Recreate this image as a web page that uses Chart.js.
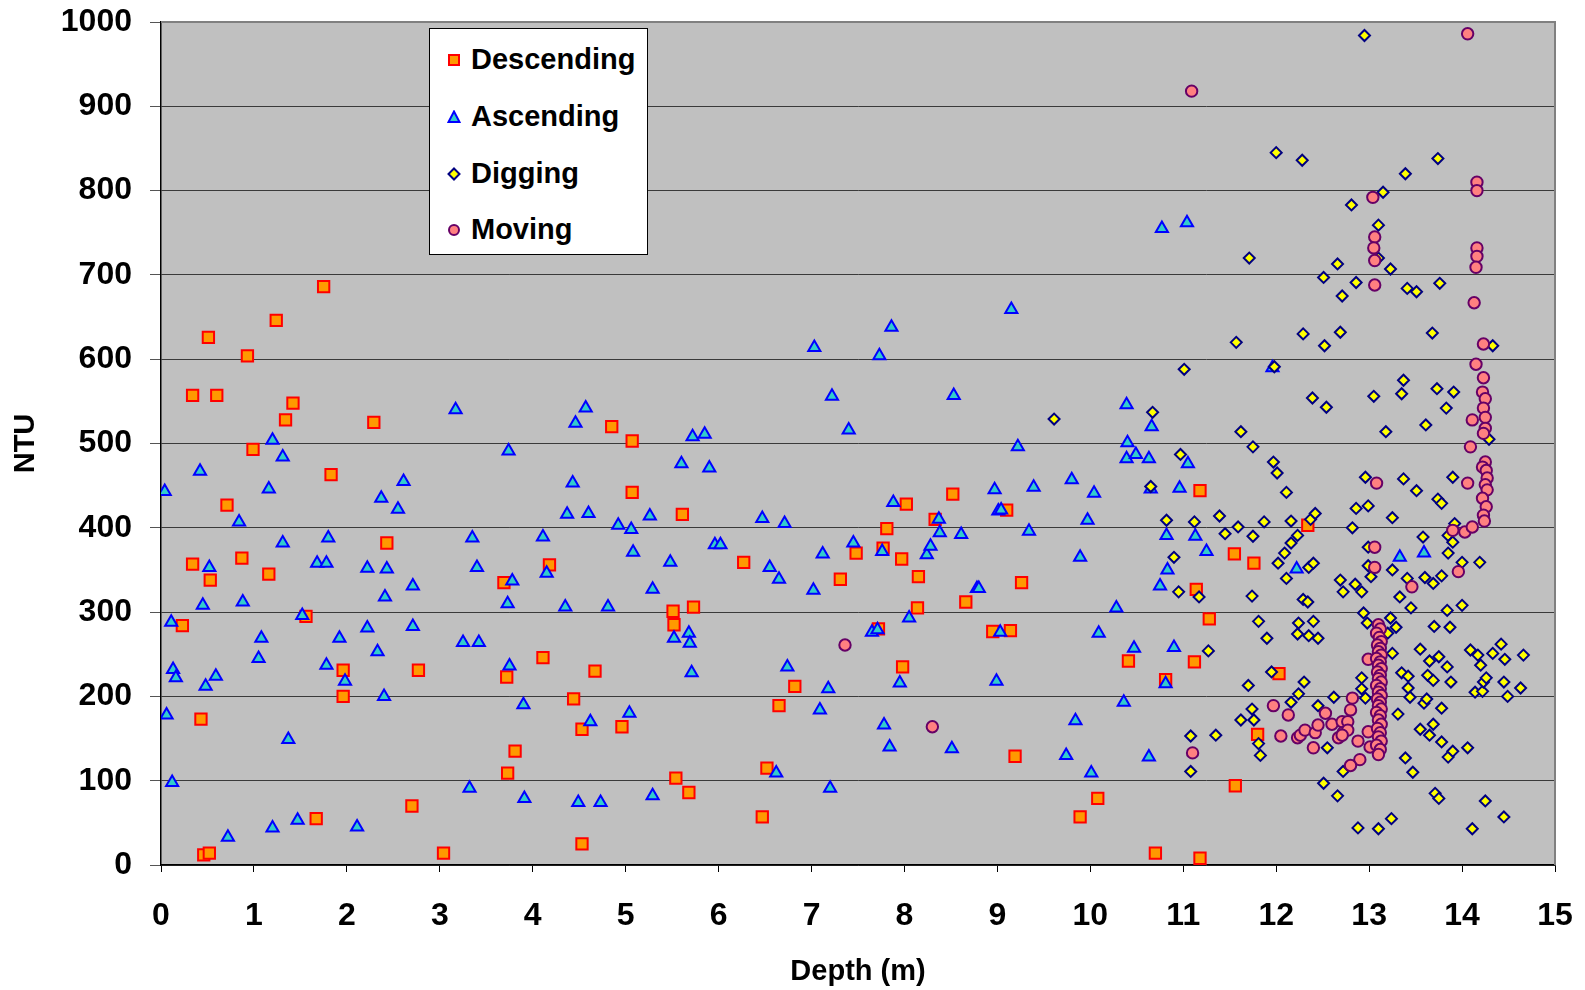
<!DOCTYPE html>
<html>
<head>
<meta charset="utf-8">
<script src="https://cdn.jsdelivr.net/npm/chart.js@4.4.0/dist/chart.umd.min.js"></script>
<style>
html,body{margin:0;padding:0;background:#fff;}
#wrap{position:relative;width:1585px;height:990px;}
#legend{position:absolute;left:429px;top:28px;width:219px;height:227px;background:#fff;border:1px solid #000;box-sizing:border-box;font:bold 29px "Liberation Sans",Arial,sans-serif;color:#000;}
#legend .row{position:absolute;left:0;height:34px;line-height:34px;white-space:nowrap;}
#legend svg{position:absolute;left:17px;top:11px;}
#legend span{position:absolute;left:41px;top:0;}
</style>
</head>
<body>
<div id="wrap">
<canvas id="c" width="1585" height="990"></canvas>
<div id="legend">
  <div class="row" style="top:13px"><svg width="14" height="14"><rect x="2" y="2" width="10" height="10" fill="#FF9900" stroke="#FF0000" stroke-width="2"/></svg><span>Descending</span></div>
  <div class="row" style="top:70px"><svg width="14" height="14"><polygon points="7,1.5 12.5,12 1.5,12" fill="#33CCCC" stroke="#0000FF" stroke-width="2"/></svg><span>Ascending</span></div>
  <div class="row" style="top:127px"><svg width="14" height="14"><polygon points="7,1.5 12.5,7 7,12.5 1.5,7" fill="#FFFF00" stroke="#000080" stroke-width="2"/></svg><span>Digging</span></div>
  <div class="row" style="top:183px"><svg width="14" height="14"><circle cx="7" cy="7" r="5" fill="#FF8080" stroke="#660066" stroke-width="2"/></svg><span>Moving</span></div>
</div>
</div>
<script>
const seriesNames = ['Descending', 'Ascending', 'Digging', 'Moving'];
const xTicks = [0,1,2,3,4,5,6,7,8,9,10,11,12,13,14,15];
const yTicks = [0,100,200,300,400,500,600,700,800,900,1000];

const descending = [[0.23,284],[0.34,357],[0.34,557],[0.43,173],[0.46,12],[0.52,14],[0.51,626],[0.53,338],[0.60,557],[0.71,427],[0.87,364],[0.93,604],[0.99,493],[1.16,345],[1.24,646],[1.34,528],[1.42,548],[1.56,295],[1.67,55],[1.75,686],[1.83,463],[1.96,231],[1.96,200],[2.29,525],[2.43,382],[2.70,70],[2.77,231],[3.04,14],[3.69,335],[3.72,223],[3.73,109],[3.81,135],[4.11,246],[4.18,356],[4.44,197],[4.53,161],[4.53,25],[4.67,230],[4.85,520],[4.96,164],[5.07,503],[5.07,442],[5.51,301],[5.52,285],[5.54,103],[5.61,416],[5.68,86],[5.73,306],[6.27,359],[6.47,57],[6.52,115],[6.65,189],[6.82,212],[7.31,339],[7.48,370],[7.72,280],[7.77,376],[7.81,399],[7.97,363],[7.98,235],[8.02,428],[8.14,305],[8.15,342],[8.33,410],[8.52,440],[8.66,312],[8.95,277],[9.10,421],[9.14,278],[9.19,129],[9.26,335],[9.89,57],[10.08,79],[10.41,242],[10.70,14],[10.81,220],[11.12,241],[11.14,327],[11.18,444],[11.18,8],[11.28,292],[11.55,369],[11.56,94],[11.76,358],[11.80,155],[12.03,227],[12.34,403]];

const ascending = [[0.04,443],[0.06,178],[0.12,98],[0.11,288],[0.13,232],[0.16,222],[0.42,467],[0.45,308],[0.48,212],[0.52,353],[0.59,224],[0.72,33],[0.84,407],[0.88,312],[1.05,245],[1.08,269],[1.16,446],[1.20,504],[1.20,44],[1.31,484],[1.31,382],[1.37,149],[1.47,53],[1.52,296],[1.68,358],[1.78,358],[1.80,388],[1.78,237],[1.92,269],[1.98,218],[2.11,45],[2.22,352],[2.22,281],[2.33,253],[2.37,435],[2.40,200],[2.41,318],[2.43,351],[2.55,422],[2.61,455],[2.71,331],[2.71,283],[3.17,540],[3.25,264],[3.42,264],[3.32,91],[3.35,388],[3.40,353],[3.74,491],[3.73,310],[3.75,236],[3.78,337],[3.91,79],[3.90,190],[4.11,389],[4.15,346],[4.35,306],[4.37,416],[4.43,453],[4.46,524],[4.49,74],[4.57,542],[4.60,417],[4.62,170],[4.73,74],[4.81,306],[4.92,403],[5.04,180],[5.06,398],[5.08,371],[5.29,82],[5.26,414],[5.29,327],[5.48,359],[5.52,269],[5.60,476],[5.68,275],[5.69,263],[5.71,228],[5.72,508],[5.85,511],[5.90,471],[5.96,380],[6.02,380],[6.47,411],[6.55,353],[6.65,339],[6.62,109],[6.71,405],[6.74,235],[7.02,326],[7.03,614],[7.09,184],[7.12,369],[7.18,209],[7.20,91],[7.22,556],[7.40,516],[7.45,382],[7.65,276],[7.71,279],[7.73,604],[7.76,372],[7.78,166],[7.84,140],[7.86,638],[7.88,430],[7.95,216],[8.05,293],[8.24,368],[8.28,378],[8.37,410],[8.38,394],[8.51,138],[8.53,557],[8.61,392],[8.78,328],[8.80,328],[8.97,445],[8.99,218],[9.01,420],[9.04,421],[9.03,276],[9.15,659],[9.22,496],[9.34,396],[9.39,448],[9.74,130],[9.80,457],[9.84,171],[9.89,365],[9.97,409],[10.01,109],[10.04,441],[10.09,275],[10.28,305],[10.36,193],[10.39,546],[10.40,501],[10.39,482],[10.47,257],[10.49,487],[10.63,128],[10.63,482],[10.65,446],[10.66,520],[10.75,331],[10.77,755],[10.81,215],[10.82,391],[10.83,350],[10.90,258],[10.96,447],[11.04,762],[11.05,476],[11.13,390],[11.25,372],[11.96,590],[12.22,351],[13.33,365],[13.59,370]];

const digging = [[9.61,529],[10.67,537],[10.65,449],[10.97,487],[10.82,409],[10.90,365],[10.95,324],[11.17,318],[11.01,588],[11.12,407],[11.27,254],[11.08,153],[11.35,154],[11.08,111],[11.39,414],[11.45,393],[11.57,620],[11.59,401],[11.62,514],[11.62,172],[11.70,213],[11.71,720],[11.74,319],[11.74,185],[11.75,496],[11.75,390],[11.76,172],[11.81,289],[11.81,144],[11.83,130],[11.87,407],[11.90,269],[11.95,229],[11.97,478],[11.98,591],[12.00,845],[12.01,465],[12.02,358],[12.09,370],[12.11,442],[12.11,340],[12.16,408],[12.16,382],[12.16,193],[12.23,391],[12.23,274],[12.24,287],[12.24,203],[12.28,836],[12.29,630],[12.29,315],[12.30,217],[12.34,312],[12.35,353],[12.35,272],[12.37,410],[12.39,554],[12.40,358],[12.40,289],[12.42,417],[12.45,269],[12.45,189],[12.51,697],[12.51,97],[12.52,616],[12.54,543],[12.55,139],[12.62,199],[12.66,713],[12.66,82],[12.69,632],[12.69,338],[12.71,675],[12.72,324],[12.72,111],[12.81,783],[12.82,400],[12.85,333],[12.86,691],[12.86,423],[12.88,44],[12.92,324],[12.92,222],[12.92,209],[12.94,299],[12.95,984],[12.96,460],[12.96,198],[12.98,287],[12.99,426],[12.99,377],[12.99,355],[13.02,342],[13.05,556],[13.10,759],[13.10,720],[13.10,43],[13.15,798],[13.18,514],[13.20,275],[13.23,707],[13.23,293],[13.24,55],[13.25,412],[13.25,350],[13.25,251],[13.29,282],[13.31,179],[13.33,318],[13.35,559],[13.35,228],[13.37,575],[13.37,458],[13.39,820],[13.39,127],[13.41,684],[13.41,340],[13.42,224],[13.42,210],[13.44,199],[13.45,305],[13.47,110],[13.51,680],[13.51,444],[13.55,256],[13.55,161],[13.58,389],[13.59,192],[13.60,341],[13.61,522],[13.62,197],[13.63,225],[13.65,242],[13.65,154],[13.68,631],[13.69,334],[13.69,219],[13.69,167],[13.70,283],[13.71,85],[13.73,565],[13.74,838],[13.74,434],[13.75,247],[13.75,79],[13.76,690],[13.78,429],[13.78,343],[13.78,186],[13.78,146],[13.83,542],[13.84,302],[13.84,235],[13.85,391],[13.85,370],[13.85,128],[13.87,282],[13.88,217],[13.90,460],[13.90,383],[13.90,135],[13.91,561],[13.92,405],[14.00,359],[14.00,308],[14.06,139],[14.09,255],[14.11,43],[14.14,205],[14.17,249],[14.19,359],[14.20,237],[14.22,206],[14.23,217],[14.25,76],[14.26,222],[14.29,505],[14.33,616],[14.33,251],[14.42,262],[14.45,217],[14.45,57],[14.46,244],[14.49,200],[14.63,210],[14.66,249]];

const moving = [[7.36,261],[8.30,164],[11.09,918],[11.10,133],[11.97,189],[12.13,178],[12.05,153],[12.23,151],[12.26,154],[12.31,160],[12.40,139],[12.42,157],[12.45,166],[12.53,180],[12.60,167],[12.67,151],[12.71,170],[12.72,157],[12.82,198],[12.80,184],[12.77,170],[12.77,160],[12.71,154],[12.88,147],[12.99,158],[13.01,140],[12.90,125],[12.80,118],[12.99,244],[13.04,792],[13.06,745],[13.05,732],[13.06,717],[13.06,688],[13.08,453],[13.06,377],[13.06,353],[13.46,330],[13.96,348],[14.03,395],[13.90,397],[14.06,986],[14.16,810],[14.16,800],[14.16,732],[14.16,722],[14.15,709],[14.13,667],[14.23,618],[14.15,594],[14.23,578],[14.22,561],[14.25,553],[14.23,542],[14.25,531],[14.11,528],[14.25,518],[14.23,512],[14.09,496],[14.25,478],[14.22,472],[14.26,468],[14.27,459],[14.25,451],[14.06,453],[14.27,445],[14.22,435],[14.26,425],[14.23,415],[14.24,408],[14.11,401],[13.10,285],[13.12,280],[13.08,275],[13.11,270],[13.13,265],[13.09,261],[13.12,257],[13.10,253],[13.13,249],[13.08,245],[13.12,241],[13.10,237],[13.13,233],[13.09,229],[13.12,225],[13.10,221],[13.13,217],[13.08,213],[13.12,209],[13.10,205],[13.13,201],[13.09,197],[13.12,193],[13.10,189],[13.13,185],[13.08,181],[13.12,177],[13.10,172],[13.13,167],[13.09,162],[13.12,157],[13.10,152],[13.13,147],[13.08,142],[13.12,137],[13.10,131]];

const toXY = arr => arr.map(p => ({x: p[0], y: p[1]}));
const FONT = "'Liberation Sans', Arial, Helvetica, sans-serif";

const plotBg = {
  id: 'plotBg',
  beforeDraw(c) {
    const {ctx, chartArea: a} = c;
    ctx.save();
    ctx.fillStyle = '#C0C0C0';
    ctx.fillRect(a.left, a.top, a.right - a.left, a.bottom - a.top);
    ctx.restore();
  },
  beforeDatasetsDraw(c) {
    const {ctx, chartArea: a} = c;
    ctx.save();
    ctx.strokeStyle = '#808080';
    ctx.lineWidth = 2;
    ctx.beginPath();
    ctx.moveTo(a.left, a.top);
    ctx.lineTo(a.right, a.top);
    ctx.lineTo(a.right, a.bottom);
    ctx.stroke();
    ctx.restore();
  }
};

new Chart(document.getElementById('c'), {
  type: 'scatter',
  data: {
    datasets: [
      {label: seriesNames[0], data: toXY(descending), pointStyle: 'rect', pointRadius: 8, backgroundColor: '#FF9900', borderColor: '#FF0000', borderWidth: 2, order: 3},
      {label: seriesNames[1], data: toXY(ascending), pointStyle: 'triangle', pointRadius: 7, backgroundColor: '#33CCCC', borderColor: '#0000FF', borderWidth: 2, order: 2},
      {label: seriesNames[2], data: toXY(digging), pointStyle: 'rectRot', pointRadius: 5.5, backgroundColor: '#FFFF00', borderColor: '#000080', borderWidth: 2, order: 1},
      {label: seriesNames[3], data: toXY(moving), pointStyle: 'circle', pointRadius: 5.7, backgroundColor: '#FF8080', borderColor: '#660066', borderWidth: 2, order: 0}
    ]
  },
  options: {
    responsive: false,
    animation: false,
    layout: {padding: {top: 22, right: 30, left: 0, bottom: 0}},
    plugins: {legend: {display: false}, tooltip: {enabled: false}},
    scales: {
      x: {
        type: 'linear', min: 0, max: 15,
        afterBuildTicks: s => { s.ticks = xTicks.map(v => ({value: v})); },
        ticks: {font: {family: FONT, size: 32, weight: 'bold'}, color: '#000', padding: 25, maxRotation: 0, autoSkip: false, callback: v => String(v)},
        grid: {drawOnChartArea: false, drawTicks: true, tickLength: 7, color: '#000', lineWidth: 1},
        border: {display: true, color: '#000', width: 1.5},
        title: {display: true, text: 'Depth (m)', font: {family: FONT, size: 29, weight: 'bold'}, color: '#000', padding: {top: 0, bottom: 1}},
        afterFit: s => { s.height = 125; s.paddingLeft = 0; s.paddingRight = 0; }
      },
      y: {
        type: 'linear', min: 0, max: 1000,
        afterBuildTicks: s => { s.ticks = yTicks.map(v => ({value: v})); },
        ticks: {font: {family: FONT, size: 32, weight: 'bold'}, color: '#000', padding: 18, callback: v => String(v)},
        grid: {color: '#3a3a3a', lineWidth: 1, tickLength: 11, tickColor: '#555'},
        border: {display: true, color: '#000', width: 1.5},
        title: {display: true, text: 'NTU', font: {family: FONT, size: 29, weight: 'bold'}, color: '#000', padding: {top: 9, bottom: 0}},
        afterFit: s => { s.width = 161; s.paddingTop = 0; s.paddingBottom = 0; }
      }
    }
  },
  plugins: [plotBg]
});
</script>
</body>
</html>
